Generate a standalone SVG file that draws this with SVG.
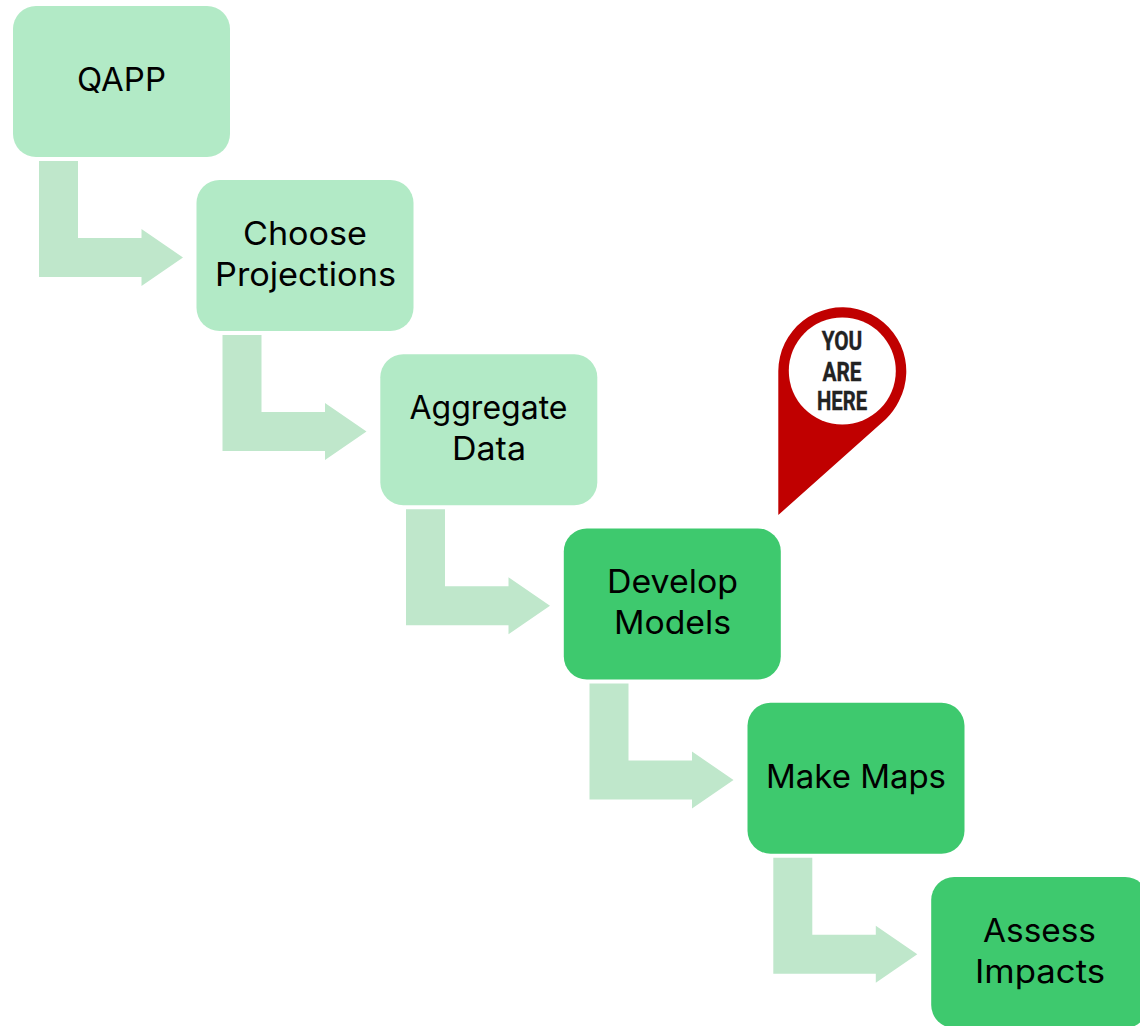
<svg xmlns="http://www.w3.org/2000/svg" width="1140" height="1026" viewBox="0 0 1140 1026">
<style>
.lbl{font-family:Inter,"Noto Sans",sans-serif;font-size:32.500px;fill:#000;text-anchor:middle}
.light{fill:#b2eac6}
.dark{fill:#3ec96e}
.pintxt{font-family:Roboto,"Liberation Sans",sans-serif;font-weight:700;font-size:26px;fill:#222;text-anchor:middle;stroke:#222;stroke-width:.4}
</style>
<defs>
<path id="bent" d="M0 0H39V77H102.500V68L144 96.500L102.500 125V116H0Z" fill="#bfe7cb"/>
</defs>
<rect width="1140" height="1026" fill="#fff"/>
<g id="connectors">
<use href="#bent" x="39" y="161"/>
<use href="#bent" x="222.500" y="335"/>
<use href="#bent" x="406" y="509.300"/>
<use href="#bent" x="589.500" y="683.500"/>
<use href="#bent" x="773.300" y="857.800"/>
</g>
<g id="qapp"><rect class="light" x="13" y="6" width="217" height="151" rx="23"/><text class="lbl" x="121.500" y="91" textLength="89" lengthAdjust="spacingAndGlyphs">QAPP</text></g>
<g id="choose-projections"><rect class="light" x="196.500" y="180" width="217" height="151" rx="23"/><text class="lbl" x="305" y="245" textLength="124" lengthAdjust="spacingAndGlyphs">Choose</text><text class="lbl" x="305.500" y="286" textLength="181" lengthAdjust="spacingAndGlyphs">Projections</text></g>
<g id="aggregate-data"><rect class="light" x="380.300" y="354.300" width="217" height="151" rx="23"/><text class="lbl" x="488.500" y="419" textLength="158" lengthAdjust="spacingAndGlyphs">Aggregate</text><text class="lbl" x="489" y="460" textLength="74" lengthAdjust="spacingAndGlyphs">Data</text></g>
<g id="develop-models"><rect class="dark" x="563.800" y="528.400" width="217" height="151" rx="23"/><text class="lbl" x="672.500" y="593" textLength="131" lengthAdjust="spacingAndGlyphs">Develop</text><text class="lbl" x="672.500" y="634" textLength="117" lengthAdjust="spacingAndGlyphs">Models</text></g>
<g id="make-maps"><rect class="dark" x="747.500" y="702.700" width="217" height="151" rx="23"/><text class="lbl" x="856" y="788" textLength="180" lengthAdjust="spacingAndGlyphs">Make Maps</text></g>
<g id="assess-impacts"><rect class="dark" x="931.200" y="877" width="217" height="151" rx="23"/><text class="lbl" x="1039.500" y="942" textLength="113" lengthAdjust="spacingAndGlyphs">Assess</text><text class="lbl" x="1040" y="983" textLength="130" lengthAdjust="spacingAndGlyphs">Impacts</text></g>
<g id="you-are-here">
<path d="M778.300 515V371A64 64 0 1 1 899 401Q894 411 886 419Z" fill="#c00000"/>
<circle cx="842.300" cy="371" r="53.500" fill="#fff"/>
<text class="pintxt" transform="translate(842 350) scale(.8 1)">YOU</text>
<text class="pintxt" transform="translate(842 381) scale(.8 1)">ARE</text>
<text class="pintxt" transform="translate(842 410) scale(.78 1)">HERE</text>
</g>
</svg>
